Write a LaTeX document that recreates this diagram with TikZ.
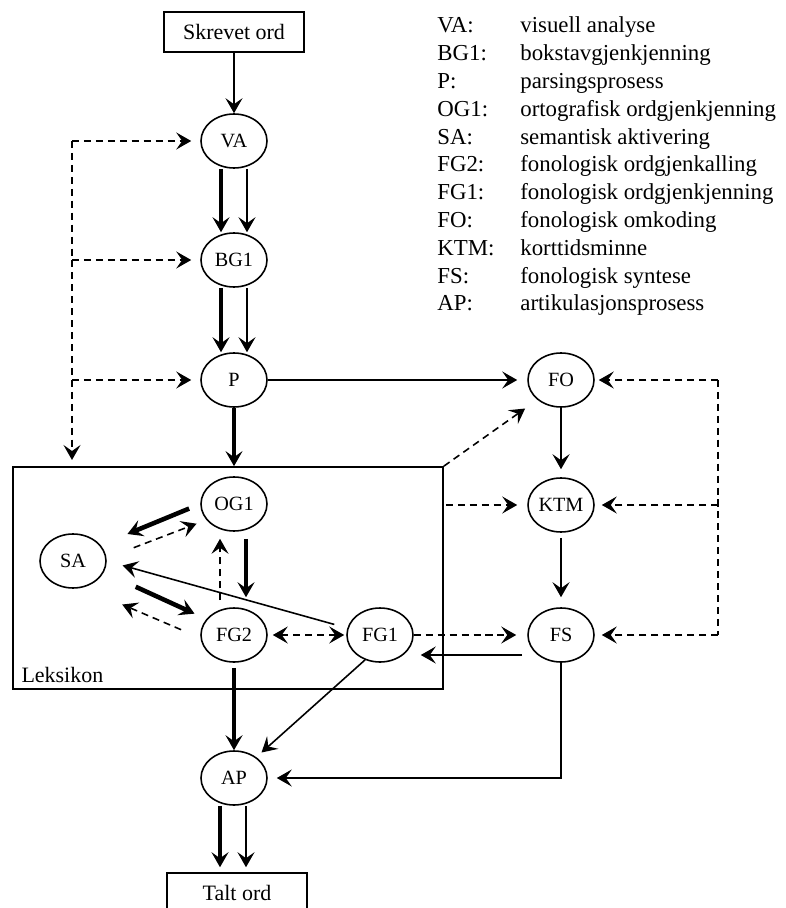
\documentclass[tikz,border=0pt]{standalone}
\usepackage{fontspec}
\setmainfont{Liberation Serif}
\usepackage{tikz}
\usetikzlibrary{arrows.meta,positioning,shapes.geometric}

\begin{document}
\begin{tikzpicture}[
    x=0.02cm, y=-0.02cm,
    >={Stealth[length=3mm, width=3.4mm, inset=1.2mm]},
    proc/.style={draw, ellipse, line width=0.9pt, inner sep=0pt,
                 minimum width=1.32cm, minimum height=1.08cm,
                 font=\fontsize{11.5}{13}\selectfont},
    wordbox/.style={draw, rectangle, line width=0.9pt, minimum width=2.8cm,
                    minimum height=0.8cm, font=\fontsize{12.5}{14}\selectfont},
    arr/.style={->, line width=0.9pt},
    heavy/.style={->, line width=2.6pt},
    dashline/.style={line width=0.9pt, dash pattern=on 4pt off 2.8pt},
    dasharr/.style={->, dashline},
    legtext/.style={anchor=base west, inner sep=0pt,
                    font=\fontsize{13}{15}\selectfont}
]
\useasboundingbox (0,0) rectangle (785,908);

% main column
\node[wordbox] (skrevet) at (234,32) {Skrevet ord};
\node[proc] (va) at (234,141) {VA};
\node[proc] (bg) at (234,260) {BG1};
\node[proc] (p) at (234,380) {P};

% lexicon
\node[draw, line width=1pt, inner sep=0pt, minimum width=8.6cm,
      minimum height=4.44cm] (leks) at (228,578) {};
\node[anchor=base west, inner sep=0pt, font=\fontsize{12.5}{14}\selectfont]
    (leksname) at ([xshift=0.18cm, yshift=0.14cm]leks.south west) {Leksikon};
\node[proc] (og) at (234,504) {OG1};
\node[proc] (sa) at (73,561) {SA};
\node[proc] (fgto) at (234,635) {FG2};
\node[proc] (fgen) at (380,635) {FG1};

\node[proc] (ap) at (234,778) {AP};
\node[wordbox] (talt) at (237,893) {Talt ord};

% right column
\node[proc] (fo) at (561,380) {FO};
\node[proc] (ktm) at (561,505) {KTM};
\node[proc] (fs) at (561,635) {FS};

\coordinate (ltop) at (72,141);
\coordinate (lbot) at (72,460);
\coordinate (rtop) at (718,380);
\coordinate (rbot) at (718,635);

% legend
\foreach \abbr/\desc [count=\i] in {VA:/visuell analyse, BG1:/bokstavgjenkjenning,
    P:/parsingsprosess, OG1:/ortografisk ordgjenkjenning, SA:/semantisk aktivering,
    FG2:/fonologisk ordgjenkalling, FG1:/fonologisk ordgjenkjenning,
    FO:/fonologisk omkoding, KTM:/korttidsminne, FS:/fonologisk syntese,
    AP:/artikulasjonsprosess}
{
    \node[legtext] (abbr\i) at (437, 5.2+27.8*\i) {\abbr};
    \node[legtext] (desc\i) at (520, 5.2+27.8*\i) {\desc};
}

% reading route
\draw[arr] (skrevet) -- (va);
\draw[heavy] ([xshift=-0.26cm]va.south) -- ([xshift=-0.26cm]bg.north);
\draw[arr] ([xshift=0.26cm]va.south) -- ([xshift=0.26cm]bg.north);
\draw[heavy] ([xshift=-0.26cm]bg.south) -- ([xshift=-0.26cm]p.north);
\draw[arr] ([xshift=0.26cm]bg.south) -- ([xshift=0.26cm]p.north);
\draw[heavy] (p.south) -- (p.south |- leks.north);

\draw[dasharr] (ltop) -- (lbot);
\draw[dasharr, shorten >=0.18cm] (ltop) -- (va.west);
\draw[dasharr, shorten >=0.18cm] (ltop |- bg) -- (bg.west);
\draw[dasharr, shorten >=0.18cm] (ltop |- p) -- (p.west);

% phonological route
\draw[arr, shorten >=0.2cm] (p.east) -- (fo.west);
\draw[arr, line width=1.2pt, shorten >=0.16cm] (fo.south) -- (ktm.north);
\draw[arr, line width=1.2pt, shorten <=0.1cm, shorten >=0.2cm] (ktm.south) -- (fs.north);
\draw[dashline] (rtop) -- (rbot);
\draw[dasharr, shorten >=0.08cm] (rtop) -- (fo.east);
\draw[dasharr, shorten >=0.14cm] (rtop |- ktm) -- (ktm.east);
\draw[dasharr, shorten >=0.14cm] (rbot) -- (fs.east);
\draw[dasharr, shorten >=0.3cm] (leks.north east) -- (fo.220);
\draw[dasharr, shorten <=0.04cm, shorten >=0.2cm] (leks.east |- ktm) -- (ktm.west);
\draw[dasharr, shorten >=0.22cm] (fgen.east) -- (fs.west);
\draw[arr, line width=1.2pt, shorten <=0.1cm, shorten >=0.14cm]
    ([yshift=-0.4cm]fs.west) -- ([yshift=-0.4cm]fgen.east);
\draw[arr, shorten >=0.18cm] (fs.south) |- (ap.east);

% inside the lexicon
\draw[heavy, shorten <=0.24cm, shorten >=0.58cm] (og.180) -- (sa.30);
\draw[dasharr, shorten <=0.58cm, shorten >=0.21cm] (sa.5) -- (og.210);
\draw[heavy, shorten <=0.14cm, shorten >=0.2cm]
    ([xshift=0.24cm]og.south) -- ([xshift=0.24cm]fgto.north);
\draw[dasharr, shorten <=0.14cm, shorten >=0.14cm]
    ([xshift=-0.28cm]fgto.north) -- ([xshift=-0.28cm]og.south);
\draw[heavy, shorten <=0.7cm, shorten >=0.26cm] (sa.340) -- (fgto.150);
\draw[dasharr, shorten <=0.42cm, shorten >=0.86cm] (fgto.185) -- (sa.290);
\draw[arr, shorten <=0.27cm, shorten >=0.33cm] (fgen.168) -- (sa.east);
\draw[dasharr, <->, shorten <=0.1cm, shorten >=0.04cm] (fgto.east) -- (fgen.west);

% output
\draw[heavy, shorten <=0.1cm] (fgto.south) -- (ap.north);
\draw[arr, shorten >=0.14cm] (fgen.239) -- (ap.43);
\draw[heavy, shorten >=0.1cm] ([xshift=-0.28cm]ap.south) -- ([xshift=-0.28cm]ap.south |- talt.north);
\draw[arr, shorten >=0.1cm] ([xshift=0.24cm]ap.south) -- ([xshift=0.24cm]ap.south |- talt.north);
\end{tikzpicture}
\end{document}
